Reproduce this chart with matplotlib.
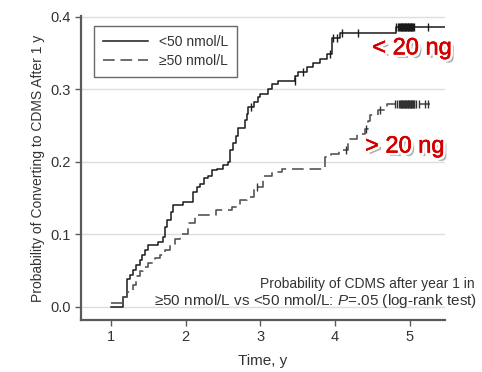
import matplotlib
matplotlib.use("Agg")
import matplotlib.pyplot as plt
import matplotlib.patheffects as pe
import numpy as np

# Kaplan-Meier style cumulative probability
lt50_time = [1.00, 1.165, 1.22, 1.25, 1.30, 1.34, 1.39, 1.42, 1.46, 1.50, 1.63, 1.70,
             1.72, 1.75, 1.81, 1.83, 1.97, 2.10, 2.15, 2.19, 2.24, 2.30, 2.35, 2.42,
             2.50, 2.57, 2.59, 2.64, 2.67, 2.70, 2.79, 2.82, 2.84, 2.91, 2.97, 2.99,
             3.10, 3.15, 3.24, 3.47, 3.51, 3.62, 3.71, 3.80, 3.89, 3.96, 4.06, 4.81, 5.47]
lt50_prob = [0.000, 0.014, 0.039, 0.044, 0.051, 0.058, 0.065, 0.071, 0.078, 0.085, 0.090, 0.097,
             0.110, 0.120, 0.131, 0.140, 0.145, 0.158, 0.165, 0.170, 0.177, 0.181, 0.188, 0.190,
             0.195, 0.200, 0.216, 0.226, 0.236, 0.247, 0.257, 0.266, 0.275, 0.282, 0.289, 0.293,
             0.300, 0.307, 0.312, 0.318, 0.324, 0.330, 0.336, 0.342, 0.348, 0.371, 0.378, 0.386, 0.386]
lt50_cens = [2.88, 3.46, 3.57, 3.93, 3.97, 4.02, 4.09, 4.31, 4.81, 4.84, 4.86, 4.87, 4.88,
             4.89, 4.90, 4.91, 4.92, 4.93, 4.94, 4.95, 4.96, 4.97, 4.98, 4.99, 5.00, 5.01,
             5.02, 5.03, 5.04, 5.05, 5.25]

ge50_time = [1.00, 1.165, 1.22, 1.30, 1.34, 1.39, 1.43, 1.50, 1.59, 1.66, 1.72, 1.79,
             1.86, 1.92, 2.03, 2.12, 2.41, 2.62, 2.73, 2.82, 2.92, 3.03, 3.15, 3.29,
             3.86, 3.95, 4.05, 4.18, 4.29, 4.40, 4.44, 4.47, 4.58, 4.69, 5.27]
ge50_prob = [0.006, 0.014, 0.021, 0.030, 0.042, 0.050, 0.055, 0.060, 0.067, 0.071, 0.078, 0.087,
             0.094, 0.101, 0.115, 0.126, 0.134, 0.138, 0.148, 0.151, 0.165, 0.181, 0.186, 0.190,
             0.206, 0.211, 0.216, 0.231, 0.239, 0.245, 0.256, 0.264, 0.271, 0.279, 0.279]
ge50_cens = [2.95, 4.15, 4.42, 4.60, 4.80, 4.83, 4.86, 4.87, 4.88, 4.89, 4.90, 4.91,
             4.92, 4.93, 4.94, 4.95, 4.96, 4.97, 4.98, 4.99, 5.00, 5.01, 5.02, 5.03,
             5.04, 5.05, 5.06, 5.09, 5.12, 5.20, 5.25]

x_ticks = [1, 2, 3, 4, 5]
y_ticks = [0.0, 0.1, 0.2, 0.3, 0.4]

plt.rcParams['font.family'] = ['Liberation Sans', 'DejaVu Sans']
plt.rcParams['mathtext.fontset'] = 'custom'
plt.rcParams['mathtext.it'] = 'Liberation Sans:italic'
plt.rcParams['mathtext.rm'] = 'Liberation Sans'

text_col = '#333333'
axis_col = '#5a5a5a'


def value_at(times, probs, t):
    i = np.searchsorted(times, t, side='right') - 1
    return probs[max(i, 0)]


fig = plt.figure(figsize=(4.82, 3.72), dpi=100)
ax = fig.add_axes([0.168, 0.140, 0.755, 0.817])

for y in y_ticks:
    ax.axhline(y, color='#dddddd', lw=1, zorder=0)

ax.step(lt50_time, lt50_prob, where='post', color='#1a1a1a', lw=1.1, label='<50 nmol/L')
ax.step(ge50_time, ge50_prob, where='post', color='#555555', lw=1.2,
        linestyle=(0, (7, 3.5)), label='≥50 nmol/L')

ax.plot(lt50_cens, [value_at(lt50_time, lt50_prob, t) for t in lt50_cens],
        linestyle='none', marker='|', ms=6, mew=1, color='#1a1a1a')
ax.plot(ge50_cens, [value_at(ge50_time, ge50_prob, t) for t in ge50_cens],
        linestyle='none', marker='|', ms=6, mew=1, color='#333333')

ax.set_xlim(0.6, 5.47)
ax.set_ylim(-0.018, 0.401)
ax.set_xticks(x_ticks)
ax.set_yticks(y_ticks)
ax.set_yticklabels(['%.1f' % v for v in y_ticks])
ax.tick_params(colors=axis_col, labelcolor=text_col, labelsize=10.5, length=4, width=1)

for side in ['top', 'right']:
    ax.spines[side].set_visible(False)
for side in ['left', 'bottom']:
    ax.spines[side].set_color(axis_col)
    ax.spines[side].set_linewidth(1.6)

ax.set_xlabel('Time, y', fontsize=11, color=text_col, labelpad=7)
ax.set_ylabel('Probability of Converting to CDMS After 1 y', fontsize=10, color=text_col, labelpad=4)

leg = ax.legend(loc='upper left', bbox_to_anchor=(0.036, 0.967), borderaxespad=0, fontsize=10,
                frameon=True, fancybox=False, handlelength=3.2, borderpad=0.65, labelspacing=0.35)
leg.get_frame().set_edgecolor('#444444')
leg.get_frame().set_linewidth(1)
for t in leg.get_texts():
    t.set_color(text_col)

fig.text(0.985, 0.226, 'Probability of CDMS after year 1 in', ha='right', va='baseline',
         fontsize=10, color=text_col)
fig.text(0.990, 0.180, '≥50 nmol/L vs <50 nmol/L: $P$=.05 (log-rank test)', ha='right',
         va='baseline', fontsize=11, color=text_col)

effects = [pe.SimplePatchShadow(offset=(2.5, -2.5), shadow_rgbFace='#777777', alpha=0.6),
           pe.withStroke(linewidth=4, foreground='white'),
           pe.withStroke(linewidth=0.35, foreground='#d40000')]
fig.text(0.855, 0.870, '< 20 ng', ha='center', va='center', fontsize=17,
         color='#d40000', path_effects=effects)
fig.text(0.840, 0.606, '> 20 ng', ha='center', va='center', fontsize=17,
         color='#d40000', path_effects=effects)

fig.savefig('out.png', dpi=100)
